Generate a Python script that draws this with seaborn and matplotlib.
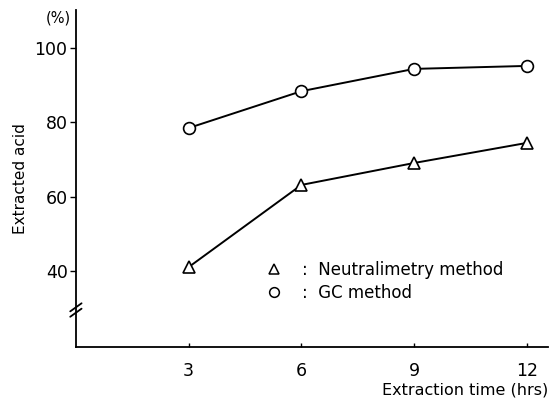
import matplotlib
matplotlib.use('Agg')
import matplotlib.pyplot as plt
from matplotlib.lines import Line2D
import seaborn as sns
import pandas as pd

hours = [3, 6, 9, 12]
neutral_acid = [41.1, 63.2, 69.1, 74.5]
gc_acid = [78.5, 88.4, 94.4, 95.2]
y_ticks = [40, 60, 80, 100]
x_ticks = [3, 6, 9, 12]

df = pd.DataFrame({
    'hours': hours * 2,
    'acid': neutral_acid + gc_acid,
    'method': ['Neutralimetry'] * 4 + ['GC'] * 4,
})

sns.set_style('white')
plt.rcParams['font.family'] = ['DejaVu Sans']
plt.rcParams['text.color'] = 'black'
plt.rcParams['axes.labelcolor'] = 'black'
plt.rcParams['xtick.color'] = 'black'
plt.rcParams['ytick.color'] = 'black'

fig = plt.figure(figsize=(5.54, 4.05), dpi=100)
ax = fig.add_axes([0.137, 0.143, 0.852, 0.832])

sns.lineplot(data=df, x='hours', y='acid', style='method', markers={'Neutralimetry': '^', 'GC': 'o'},
             dashes=False, color='black', lw=1.4, ms=8.5, mfc='white', mec='black', mew=1.2,
             legend=False, ax=ax)

ax.set_xlim(0, 12.56)
ax.set_ylim(19.6, 110.2)
ax.set_xticks(x_ticks)
ax.set_yticks(y_ticks)
ax.tick_params(axis='y', direction='out', length=4, width=1, labelsize=12.5, pad=2, left=True)
ax.tick_params(axis='x', direction='in', length=3, width=1, labelsize=12.5, pad=11, bottom=True)

for s in ['top', 'right']:
    ax.spines[s].set_visible(False)
for s in ['left', 'bottom']:
    ax.spines[s].set_color('black')
    ax.spines[s].set_linewidth(1.3)

ax.set_ylabel('Extracted acid', fontsize=11, labelpad=5)
ax.set_xlabel('')
fig.text(0.989, 0.036, 'Extraction time (hrs)', ha='right', va='center', fontsize=11.5)
fig.text(0.128, 0.955, '(%)', ha='right', va='center', fontsize=10.5)

# axis break mark on the y axis
for dy in (-0.008, 0.008):
    ax.plot([-0.012, 0.012], [0.11 + dy - 0.012, 0.11 + dy + 0.012], transform=ax.transAxes,
            color='black', lw=1.3, clip_on=False)

handles = [
    Line2D([], [], ls='none', marker='^', ms=7, mfc='white', mec='black', mew=1.1),
    Line2D([], [], ls='none', marker='o', ms=7, mfc='white', mec='black', mew=1.1),
]
ax.legend(handles, [':  Neutralimetry method', ':  GC method'], loc='center left',
          bbox_to_anchor=(0.4765, 0.305), bbox_transform=fig.transFigure, frameon=False,
          fontsize=12, handlelength=1.2, handletextpad=1.1, labelspacing=0.33,
          borderpad=0, borderaxespad=0)

fig.savefig('out.png', dpi=100)
